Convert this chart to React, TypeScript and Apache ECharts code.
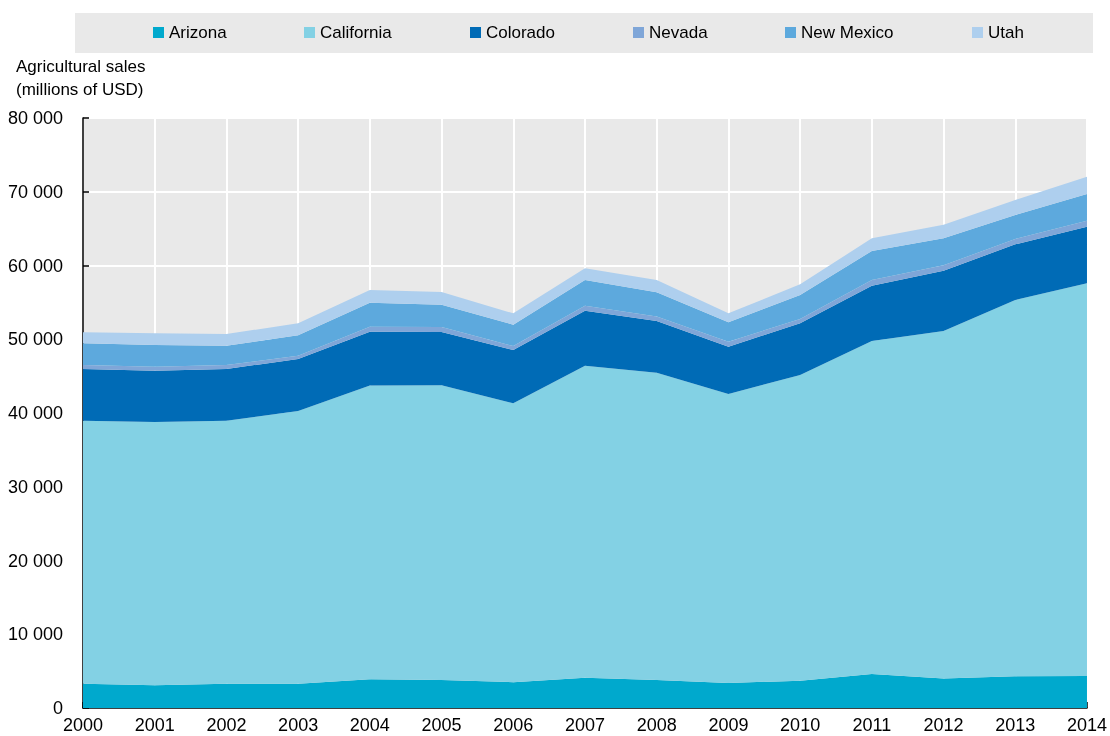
import React, { useEffect, useRef } from "react";
import * as echarts from "echarts";

const years = ["2000","2001","2002","2003","2004","2005","2006","2007","2008","2009","2010","2011","2012","2013","2014"];
const arizona = [3300,3100,3300,3300,3900,3800,3500,4100,3800,3400,3700,4600,4000,4300,4350];
const california = [35660,35680,35660,36970,39830,39960,37820,42310,41660,39180,41450,45160,47120,51020,53240];
const colorado = [7010,6960,7010,7050,7300,7220,7220,7470,7010,6410,7010,7510,8180,7550,7680];
const nevada = [530,540,530,450,670,680,540,670,630,680,590,760,730,720,810];
const newMexico = [2950,2940,2630,2760,3260,3030,2900,3480,3260,2620,3250,3940,3660,3260,3610];
const utah = [1490,1580,1580,1630,1720,1720,1530,1590,1670,1220,1450,1720,1850,2030,2360];
const yTicks = [0,10000,20000,30000,40000,50000,60000,70000,80000];

const FONT = "'Liberation Sans', Arial, sans-serif";

const seriesDefs = [
  { name: "Arizona", data: arizona, color: "#00A9CD" },
  { name: "California", data: california, color: "#83D1E4" },
  { name: "Colorado", data: colorado, color: "#006BB6" },
  { name: "Nevada", data: nevada, color: "#7FA6D8" },
  { name: "New Mexico", data: newMexico, color: "#5DA9DD" },
  { name: "Utah", data: utah, color: "#AECFEE" },
];
const legendLeft = [153, 304, 470, 633, 785, 972];

function fmt(v: number) {
  if (v === 0) return "0";
  const s = String(v);
  return s.slice(0, s.length - 3) + " " + s.slice(-3);
}

export default function App() {
  const ref = useRef<HTMLDivElement>(null);
  useEffect(() => {
    if (!ref.current) return;
    const chart = echarts.init(ref.current, null, { renderer: "svg" });
    chart.setOption({
      animation: false,
      textStyle: { fontFamily: FONT },
      graphic: [
        { type: "rect", left: 75, top: 13, shape: { width: 1018, height: 40 }, style: { fill: "#E9E9E9" }, z: -10, silent: true },
        { type: "text", left: 16, top: 58, style: { text: "Agricultural sales", font: `17px ${FONT}`, fill: "#000" } },
        { type: "text", left: 16, top: 81, style: { text: "(millions of USD)", font: `17px ${FONT}`, fill: "#000" } },
      ],
      legend: seriesDefs.map((s, i) => ({
        left: legendLeft[i],
        top: 24,
        itemWidth: 11,
        itemHeight: 11,
        icon: "rect",
        padding: 0,
        textStyle: { fontFamily: FONT, fontSize: 17, color: "#000" },
        data: [s.name],
      })),
      grid: { left: 83, right: 22, top: 118, bottom: 28, backgroundColor: "#E9E9E9", show: true, borderWidth: 0 },
      xAxis: {
        type: "category",
        data: years,
        boundaryGap: false,
        axisLine: { lineStyle: { color: "#000", width: 1.5 } },
        axisTick: { inside: true, length: 6, lineStyle: { color: "#000", width: 1.5 } },
        axisLabel: { color: "#000", fontSize: 18, fontFamily: FONT, margin: 8 },
        splitLine: { show: true, lineStyle: { color: "#FFFFFF", width: 2 } },
      },
      yAxis: {
        type: "value",
        min: 0,
        max: 80000,
        interval: 10000,
        axisLine: { show: true, lineStyle: { color: "#000", width: 1.5 } },
        axisTick: { show: true, inside: true, length: 6, lineStyle: { color: "#000", width: 1.5 } },
        axisLabel: { color: "#000", fontSize: 18, fontFamily: FONT, margin: 20, formatter: (v: number) => (yTicks.includes(v) ? fmt(v) : "") },
        splitLine: { show: true, lineStyle: { color: "#FFFFFF", width: 2 } },
      },
      series: seriesDefs.map((s) => ({
        name: s.name,
        type: "line",
        stack: "total",
        data: s.data,
        showSymbol: false,
        symbol: "none",
        lineStyle: { width: 0 },
        itemStyle: { color: s.color },
        areaStyle: { color: s.color, opacity: 1 },
        z: 3,
      })),
    });
    return () => chart.dispose();
  }, []);
  return <div ref={ref} style={{ position: "fixed", left: 0, top: 0, width: 1110, height: 736 }} />;
}
